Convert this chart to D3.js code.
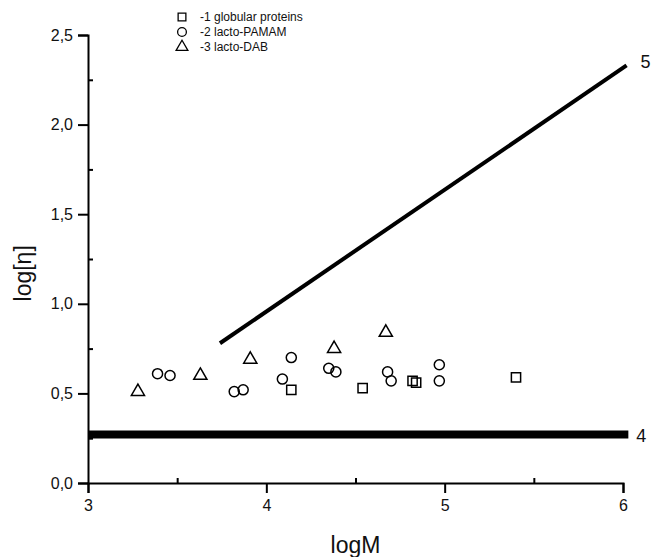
<!DOCTYPE html>
<html>
<head>
<meta charset="utf-8">
<script src="https://cdn.jsdelivr.net/npm/d3@7"></script>
<style>
  html, body { margin: 0; padding: 0; background: #fff; }
  svg { display: block; font-family: "Liberation Sans", Arial, sans-serif; }
</style>
</head>
<body>
<svg id="chart" width="655" height="557"></svg>
<script>
// log[eta] vs logM data
const globularLogM   = [4.14, 4.54, 4.82, 4.84, 5.40];
const globularLogEta = [0.52, 0.53, 0.57, 0.56, 0.59];

const pamamLogM   = [3.39, 3.46, 3.82, 3.87, 4.09, 4.14, 4.35, 4.39, 4.68, 4.70, 4.97, 4.97];
const pamamLogEta = [0.61, 0.60, 0.51, 0.52, 0.58, 0.70, 0.64, 0.62, 0.62, 0.57, 0.66, 0.57];

const dabLogM   = [3.28, 3.63, 3.91, 4.38, 4.67];
const dabLogEta = [0.51, 0.60, 0.69, 0.75, 0.84];

// Reference lines: 4 (horizontal) and 5 (sloped)
const line4LogM = [3.0, 6.03];
const line4LogEta = [0.27, 0.27];
const line5LogM = [3.74, 6.02];
const line5LogEta = [0.78, 2.33];

const legendLabels = ["-1 globular proteins", "-2 lacto-PAMAM", "-3 lacto-DAB"];
const xMajorTicks = [3, 4, 5, 6];
const xMinorTicks = [3.5, 4.5, 5.5];
const yMajorTicks = [0, 0.5, 1.0, 1.5, 2.0, 2.5];
const yMinorTicks = [0.25, 0.75, 1.25, 1.75, 2.25];

const svg = d3.select("#chart");
const x = d3.scaleLinear().domain([3, 6]).range([88, 623]);
const y = d3.scaleLinear().domain([0, 2.5]).range([483, 35]);

const fmt = d => d3.format(".1f")(d).replace(".", ",");

// x axis: major ticks outward, minor ticks inward
svg.append("g").attr("transform", `translate(0,${y(0)})`)
  .call(d3.axisBottom(x).tickValues(xMajorTicks).tickSize(10).tickPadding(7).tickFormat(d3.format("d")));
svg.append("g").attr("transform", `translate(0,${y(0)})`)
  .call(d3.axisTop(x).tickValues(xMinorTicks).tickSize(5).tickFormat(""))
  .select(".domain").remove();

svg.append("g").attr("transform", `translate(${x(3)},0)`)
  .call(d3.axisLeft(y).tickValues(yMajorTicks).tickSize(10).tickPadding(5).tickFormat(fmt));
svg.append("g").attr("transform", `translate(${x(3)},0)`)
  .call(d3.axisRight(y).tickValues(yMinorTicks).tickSize(5).tickFormat(""))
  .select(".domain").remove();

svg.selectAll(".domain").attr("stroke", "#000").attr("stroke-width", 2);
svg.selectAll(".tick line").attr("stroke", "#000").attr("stroke-width", 2);
svg.selectAll(".tick text").attr("fill", "#111").style("font-size", "16px")
  .style("font-family", '"Liberation Sans", Arial, sans-serif');

// axis titles
svg.append("text").attr("x", x(4.5)).attr("y", 553).attr("text-anchor", "middle")
  .style("font-size", "23px").attr("fill", "#111").text("logM");
svg.append("text").attr("transform", `translate(31,${y(1.17)}) rotate(-90)`)
  .attr("text-anchor", "middle").style("font-size", "23px").attr("fill", "#111").text("log[η]");

// reference lines
const lineGen = d3.line().x(d => x(d[0])).y(d => y(d[1]));
svg.append("path").datum(d3.zip(line4LogM, line4LogEta)).attr("d", lineGen)
  .attr("stroke", "#000").attr("stroke-width", 8).attr("fill", "none");
svg.append("path").datum(d3.zip(line5LogM, line5LogEta)).attr("d", lineGen)
  .attr("stroke", "#000").attr("stroke-width", 4).attr("fill", "none");
svg.append("text").attr("x", x(line4LogM[1]) + 8).attr("y", y(line4LogEta[1]) + 7)
  .style("font-size", "18px").attr("fill", "#111").text("4");
svg.append("text").attr("x", x(line5LogM[1]) + 14).attr("y", y(line5LogEta[1]) + 3)
  .style("font-size", "18px").attr("fill", "#111").text("5");

// marker symbols
const sym = {
  square: d3.symbol().type(d3.symbolSquare).size(85),
  circle: d3.symbol().type(d3.symbolCircle).size(80),
  triangle: d3.symbol().type(d3.symbolTriangle).size(75)
};
function drawSeries(xs, ys, s) {
  svg.append("g").selectAll("path").data(d3.zip(xs, ys)).join("path")
    .attr("transform", d => `translate(${x(d[0])},${y(d[1])})`)
    .attr("d", sym[s]).attr("fill", "none").attr("stroke", "#000").attr("stroke-width", 1.5);
}
drawSeries(globularLogM, globularLogEta, "square");
drawSeries(pamamLogM, pamamLogEta, "circle");
drawSeries(dabLogM, dabLogEta, "triangle");

// legend
const legendTypes = [d3.symbolSquare, d3.symbolCircle, d3.symbolTriangle];
const lg = svg.append("g");
legendLabels.forEach((t, i) => {
  const cy = 17 + i * 15;
  lg.append("path").attr("transform", `translate(182,${cy})`)
    .attr("d", d3.symbol().type(legendTypes[i]).size(60)())
    .attr("fill", "none").attr("stroke", "#000").attr("stroke-width", 1.3);
  lg.append("text").attr("x", 200).attr("y", cy + 4).style("font-size", "12px")
    .attr("fill", "#111").text(t);
});
</script>
</body>
</html>
